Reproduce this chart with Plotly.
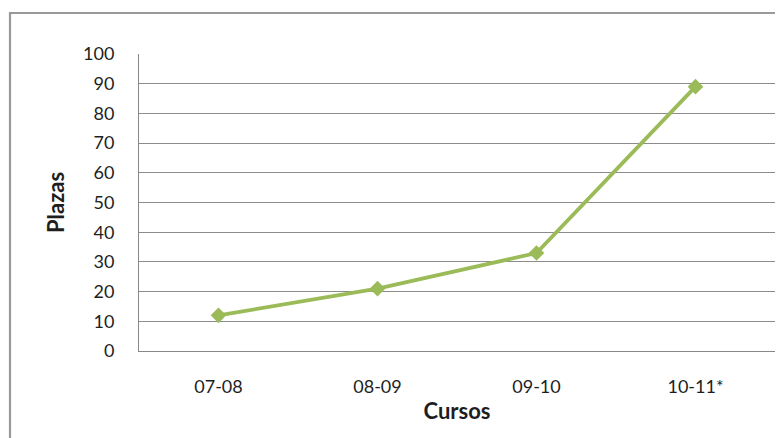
import plotly.graph_objects as go

cursos = ["07-08", "08-09", "09-10", "10-11*"]
plazas = [12, 21, 33, 89]
y_ticks = [0, 10, 20, 30, 40, 50, 60, 70, 80, 90, 100]

# page body adds an 8px offset; figure coordinates are the reference's minus 8
W, H = 775, 430
L, R, T, B = 131, 8, 46, 87
pw = W - L - R
ph = H - T - B

fig = go.Figure()
fig.add_trace(go.Scatter(
    x=cursos, y=plazas, mode="lines+markers",
    line=dict(color="#9BBB59", width=3.8),
    marker=dict(symbol="diamond", size=12, color="#9BBB59"),
    showlegend=False,
))

def px_x(p):
    return (p - L) / pw

def px_y(p):
    return (H - B - p) / ph

fig.add_shape(type="rect", xref="paper", yref="paper",
              x0=px_x(2), x1=px_x(800), y0=px_y(470), y1=px_y(5),
              line=dict(color="#999999", width=2.2), fillcolor="rgba(0,0,0,0)")

fig.update_layout(
    width=W, height=H,
    margin=dict(l=L, r=R, t=T, b=B),
    paper_bgcolor="white", plot_bgcolor="white",
    font=dict(family="Lato, Open Sans, sans-serif", color="#1e1e1e", size=18),
)
fig.update_xaxes(
    type="category", range=[-0.5, 3.5],
    showline=True, linecolor="#888888", linewidth=1,
    showgrid=False, ticks="outside", ticklen=19, tickcolor="rgba(0,0,0,0)",
    tickfont=dict(size=18),
    title=dict(text="<b>Cursos</b>", font=dict(size=22), standoff=8),
)
fig.update_yaxes(
    range=[0, 100], tickvals=y_ticks,
    showline=True, linecolor="#888888", linewidth=1,
    showgrid=True, gridcolor="#8c8c8c", gridwidth=1,
    ticks="outside", ticklen=20, tickcolor="rgba(0,0,0,0)",
    zeroline=False, tickfont=dict(size=18),
    title=dict(text="<b>Plazas</b>", font=dict(size=22), standoff=12),
)
fig.write_html("out.html")
